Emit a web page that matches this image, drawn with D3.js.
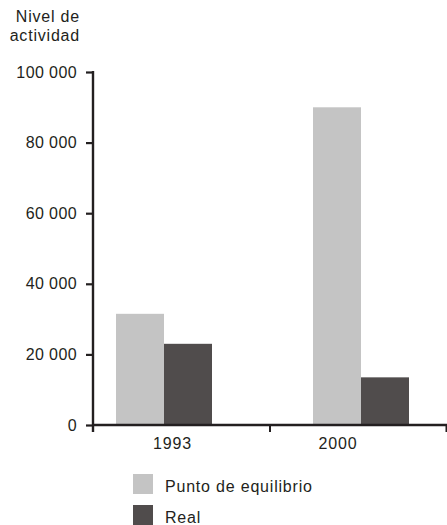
<!DOCTYPE html>
<html>
<head>
<meta charset="utf-8">
<script src="https://cdn.jsdelivr.net/npm/d3@7"></script>
<style>
  body { margin: 0; background: #fff; }
  svg text { font-family: "Liberation Sans", Arial, sans-serif; fill: #231f20; }
</style>
</head>
<body>
<div id="chart"></div>
<script>
// datos
const years = ['1993', '2000']
const equilibrio = [31500, 90000]
const real = [23000, 13500]
const yTicks = [0, 20000, 40000, 60000, 80000, 100000]
const seriesNames = ['Punto de equilibrio', 'Real']
const colors = ['#c4c4c4', '#504c4c']

const width = 447, height = 525
const svg = d3.select('#chart').append('svg')
  .attr('width', width)
  .attr('height', height)

const y = d3.scaleLinear().domain([0, 100000]).range([425, 72])
const xc = d3.scalePoint().domain(years).range([164, 361])
// las etiquetas no van centradas en las barras en el original
const xl = d3.scalePoint().domain(years).range([172.5, 338])
const frame = d3.scaleLinear().domain([0, 2]).range([93, 446])
const barW = 48
const ink = '#231f20'
const fs = 16

// eje y
const yAxis = svg.append('g')
  .attr('transform', 'translate(93,0)')
  .call(d3.axisLeft(y).tickValues(yTicks).tickSize(7).tickPadding(9)
    .tickFormat(d => d3.format(',')(d).replace(/,/g, ' ')))
yAxis.select('.domain').remove()
yAxis.selectAll('.tick line').attr('stroke', ink).attr('stroke-width', 2.2)
yAxis.selectAll('.tick text')
  .attr('font-size', fs).attr('fill', ink)
  .attr('font-family', '"Liberation Sans", Arial, sans-serif')
  .style('letter-spacing', '0.4px')
svg.append('line')
  .attr('x1', 93).attr('x2', 93)
  .attr('y1', y(100000) - 1.1).attr('y2', 432)
  .attr('stroke', ink).attr('stroke-width', 2.4)

// barras
const series = [equilibrio, real]
series.forEach((vals, i) => {
  svg.append('g').selectAll('rect')
    .data(years)
    .join('rect')
    .attr('x', (d) => xc(d) - barW + i * barW)
    .attr('y', (d, j) => y(vals[j]))
    .attr('width', barW)
    .attr('height', (d, j) => y(0) - y(vals[j]))
    .attr('fill', colors[i])
})

// eje x
const xAxis = svg.append('g')
  .attr('transform', `translate(0,${y(0)})`)
  .call(d3.axisBottom(frame).tickValues([1, 2]).tickSize(7).tickFormat(''))
xAxis.select('.domain').attr('d', `M93,0H447`).attr('stroke', ink).attr('stroke-width', 2.6)
xAxis.selectAll('.tick line').attr('stroke', ink).attr('stroke-width', 2)

svg.append('g').selectAll('text')
  .data(years)
  .join('text')
  .attr('x', d => xl(d))
  .attr('y', 449)
  .attr('text-anchor', 'middle')
  .attr('font-size', fs)
  .style('letter-spacing', '0.8px')
  .text(d => d)

// título del eje
svg.append('text')
  .attr('y', 21.7)
  .attr('text-anchor', 'end')
  .attr('font-size', fs)
  .style('letter-spacing', '0.8px')
  .selectAll('tspan')
  .data(['Nivel de', 'actividad'])
  .join('tspan')
  .attr('x', 80)
  .attr('dy', (d, i) => i ? 19.5 : 0)
  .text(d => d)

// leyenda
const legend = svg.append('g').selectAll('g')
  .data(seriesNames)
  .join('g')
  .attr('transform', (d, i) => `translate(133,${474 + i * 31})`)
legend.append('rect')
  .attr('width', 20).attr('height', 20)
  .attr('fill', (d, i) => colors[i])
legend.append('text')
  .attr('x', 32).attr('y', 17.5)
  .attr('font-size', fs)
  .style('letter-spacing', '0.8px')
  .text(d => d)
</script>
</body>
</html>
